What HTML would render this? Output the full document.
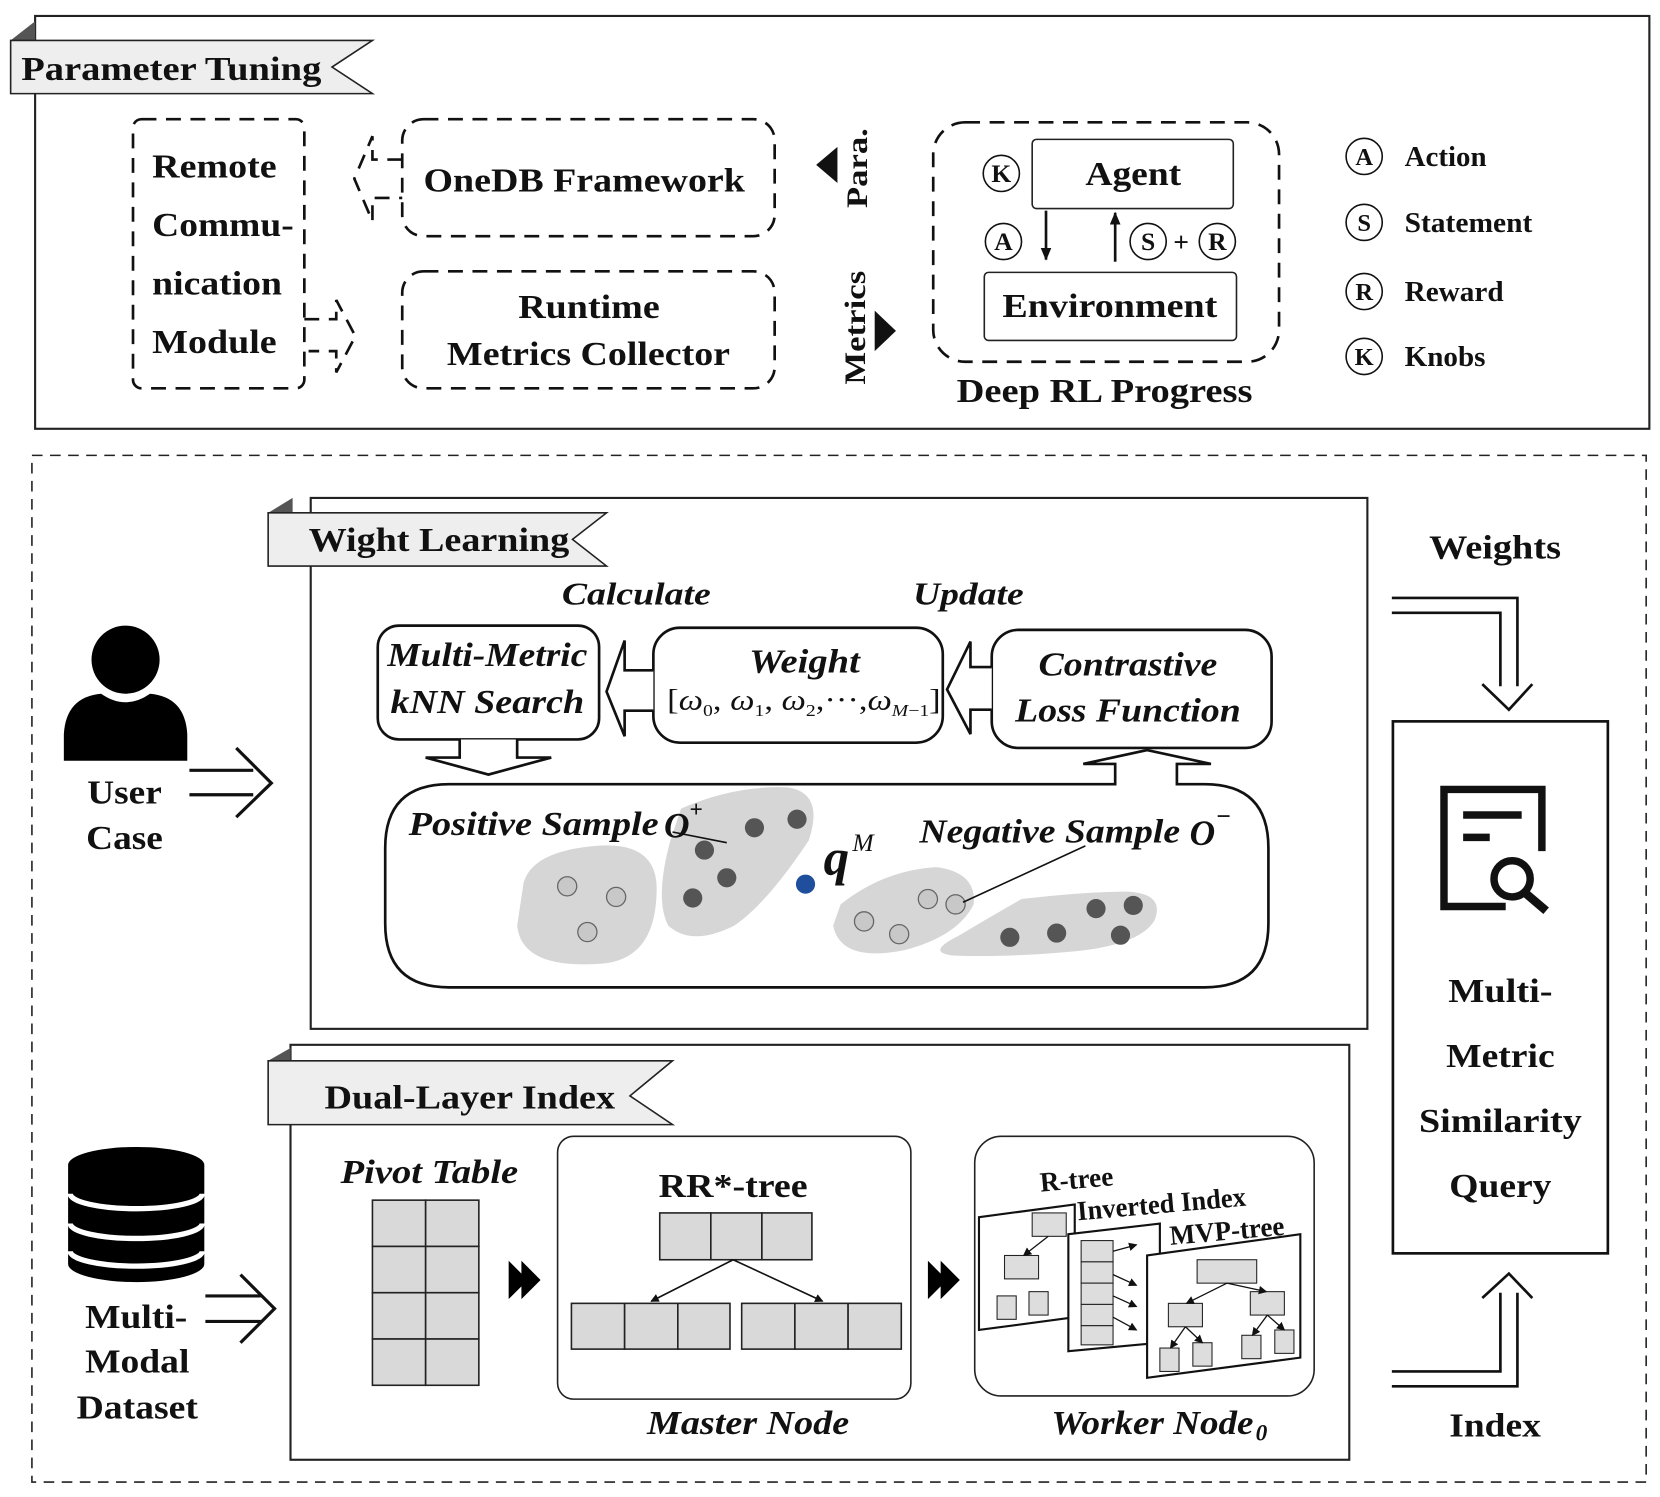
<!DOCTYPE html>
<html><head><meta charset="utf-8"><style>
html,body{margin:0;padding:0;background:#fff}
svg{display:block}
text{font-family:"Liberation Serif","Times New Roman",serif;font-weight:bold;fill:#111}
.i{font-style:italic}
</style></head><body>
<svg width="1660" height="1497" viewBox="0 0 1560 1407" preserveAspectRatio="none" xmlns="http://www.w3.org/2000/svg">
<defs>
<marker id="ah" markerWidth="8" markerHeight="8" refX="7" refY="4" orient="auto" markerUnits="userSpaceOnUse"><path d="M0,0 L8,4 L0,8 z" fill="#111"/></marker>
<marker id="ah2" markerWidth="12" markerHeight="10" refX="11" refY="5" orient="auto" markerUnits="userSpaceOnUse"><path d="M0,0 L12,5 L0,10 z" fill="#111"/></marker>
</defs>
<rect x="33" y="15" width="1517" height="388" fill="none" stroke="#222" stroke-width="2"/>
<polygon points="10,38 33,20 33,38" fill="#555"/>
<polygon points="10,38 350,38 312,63 350,88 10,88" fill="#eee" stroke="#222" stroke-width="1.5"/>
<text x="20" y="75" font-size="32" textLength="282" lengthAdjust="spacingAndGlyphs">Parameter Tuning</text>

<g fill="none" stroke="#111" stroke-width="2.5" stroke-dasharray="14,9">
<rect x="125" y="112" width="161" height="253" rx="8"/>
<rect x="378" y="112" width="350" height="110" rx="20"/>
<rect x="378" y="255" width="350" height="110" rx="20"/>
<rect x="877" y="115" width="325" height="225" rx="30"/>
<path d="M378,150 H350 V128 L333,168 L350,208 V186 H378"/>
<path d="M286,300 H316 V282 L334,316 L316,350 V330 H290"/>
</g>
<text x="143" y="167" font-size="32" textLength="117" lengthAdjust="spacingAndGlyphs">Remote</text>
<text x="143" y="222" font-size="32" textLength="133" lengthAdjust="spacingAndGlyphs">Commu-</text>
<text x="143" y="277" font-size="32" textLength="122" lengthAdjust="spacingAndGlyphs">nication</text>
<text x="143" y="332" font-size="32" textLength="117" lengthAdjust="spacingAndGlyphs">Module</text>
<text x="398" y="180" font-size="32" textLength="302" lengthAdjust="spacingAndGlyphs">OneDB Framework</text>
<text x="487" y="299" font-size="32" textLength="133" lengthAdjust="spacingAndGlyphs">Runtime</text>
<text x="420" y="343" font-size="32" textLength="266" lengthAdjust="spacingAndGlyphs">Metrics Collector</text>

<polygon points="767,155 787,138 787,172" fill="#111"/>
<text transform="translate(815,158) rotate(-90)" font-size="28" text-anchor="middle" textLength="75" lengthAdjust="spacingAndGlyphs">Para.</text>
<polygon points="842,311 822,292 822,330" fill="#111"/>
<text transform="translate(813,308) rotate(-90)" font-size="28" text-anchor="middle" textLength="107" lengthAdjust="spacingAndGlyphs">Metrics</text>

<rect x="970" y="131" width="189" height="65" rx="4" fill="none" stroke="#222" stroke-width="1.5"/>
<text x="1065" y="174" font-size="32" text-anchor="middle" textLength="90" lengthAdjust="spacingAndGlyphs">Agent</text>
<rect x="925" y="256" width="237" height="64" rx="4" fill="none" stroke="#222" stroke-width="1.5"/>
<text x="1043" y="298" font-size="32" text-anchor="middle" textLength="202" lengthAdjust="spacingAndGlyphs">Environment</text>
<g fill="#fff" stroke="#111" stroke-width="1.5">
<circle cx="941" cy="163" r="17"/><circle cx="943" cy="227" r="17"/><circle cx="1079" cy="227" r="17"/><circle cx="1144" cy="227" r="17"/>
</g>
<g font-size="24" text-anchor="middle">
<text x="941" y="171">K</text><text x="943" y="235">A</text><text x="1079" y="235">S</text><text x="1144" y="235">R</text>
</g>
<text x="1110" y="236" font-size="26" text-anchor="middle">+</text>
<line x1="983" y1="198" x2="983" y2="244" stroke="#111" stroke-width="2.5" marker-end="url(#ah2)"/>
<line x1="1048" y1="246" x2="1048" y2="200" stroke="#111" stroke-width="2.5" marker-end="url(#ah2)"/>
<text x="1038" y="378" font-size="32" text-anchor="middle" textLength="278" lengthAdjust="spacingAndGlyphs">Deep RL Progress</text>

<g fill="#fff" stroke="#111" stroke-width="1.5">
<circle cx="1282" cy="147" r="17"/><circle cx="1282" cy="209" r="17"/><circle cx="1282" cy="274" r="17"/><circle cx="1282" cy="335" r="17"/>
</g>
<g font-size="23" text-anchor="middle">
<text x="1282" y="155">A</text><text x="1282" y="217">S</text><text x="1282" y="282">R</text><text x="1282" y="343">K</text>
</g>
<g font-size="27">
<text x="1320" y="156" textLength="77" lengthAdjust="spacingAndGlyphs">Action</text>
<text x="1320" y="218" textLength="120" lengthAdjust="spacingAndGlyphs">Statement</text>
<text x="1320" y="283" textLength="93" lengthAdjust="spacingAndGlyphs">Reward</text>
<text x="1320" y="344" textLength="76" lengthAdjust="spacingAndGlyphs">Knobs</text>
</g>

<rect x="30" y="428" width="1517" height="965" fill="none" stroke="#222" stroke-width="1.5" stroke-dasharray="10,7"/>

<rect x="292" y="468" width="993" height="499" fill="none" stroke="#222" stroke-width="2"/>
<polygon points="252,482 275,468 275,482" fill="#555"/>
<polygon points="252,482 570,482 538,507 570,532 252,532" fill="#eee" stroke="#222" stroke-width="1.5"/>
<text x="290" y="518" font-size="32" textLength="245" lengthAdjust="spacingAndGlyphs">Wight Learning</text>
<text x="528" y="568" font-size="30" class="i" textLength="140" lengthAdjust="spacingAndGlyphs">Calculate</text>
<text x="858" y="568" font-size="30" class="i" textLength="104" lengthAdjust="spacingAndGlyphs">Update</text>

<g fill="#fff" stroke="#111" stroke-width="2.5">
<rect x="355" y="588" width="208" height="107" rx="20"/>
<rect x="614" y="590" width="272" height="108" rx="25"/>
<rect x="932" y="592" width="263" height="111" rx="25"/>
<path d="M614,630 H587 V602 L570,650 L587,692 V668 H614"/>
<path d="M932,627 H912 V603 L890,648 L912,690 V667 H932"/>
<path d="M432,695 V712 H400 L459,728 L518,712 H486 V695"/>
</g>
<text x="458" y="626" font-size="32" class="i" text-anchor="middle" textLength="188" lengthAdjust="spacingAndGlyphs">Multi-Metric</text>
<text x="458" y="670" font-size="32" class="i" text-anchor="middle" textLength="182" lengthAdjust="spacingAndGlyphs">kNN Search</text>
<text x="756" y="632" font-size="32" class="i" text-anchor="middle" textLength="104" lengthAdjust="spacingAndGlyphs">Weight</text>
<text x="627" y="667" font-size="28" style="font-weight:normal" textLength="257" lengthAdjust="spacingAndGlyphs">[<tspan class="i">ω</tspan><tspan font-size="16" dy="6">0</tspan><tspan dy="-6">, </tspan><tspan class="i">ω</tspan><tspan font-size="16" dy="6">1</tspan><tspan dy="-6">, </tspan><tspan class="i">ω</tspan><tspan font-size="16" dy="6">2</tspan><tspan dy="-6">,···,</tspan><tspan class="i">ω</tspan><tspan font-size="16" dy="6" class="i">M</tspan><tspan font-size="16">−1</tspan><tspan dy="-6">]</tspan></text>
<text x="1060" y="635" font-size="32" class="i" text-anchor="middle" textLength="168" lengthAdjust="spacingAndGlyphs">Contrastive</text>
<text x="1060" y="678" font-size="32" class="i" text-anchor="middle" textLength="212" lengthAdjust="spacingAndGlyphs">Loss Function</text>

<path d="M422,737 H1048 V718 H1018 L1078,705 L1138,718 H1106 V737 H1132 Q1192,737 1192,797 V868 Q1192,928 1132,928 H422 Q362,928 362,868 V797 Q362,737 422,737 Z" fill="#fff" stroke="#111" stroke-width="2.5"/>

<g fill="#d6d6d6">
<path d="M492,830 Q500,800 560,795 Q620,790 617,840 Q615,905 560,906 Q490,910 486,870 Z"/>
<path d="M640,760 Q690,738 740,740 Q775,745 760,790 Q720,850 690,870 Q650,890 628,870 Q615,845 630,790 Z"/>
<path d="M790,850 Q830,818 880,815 Q918,820 915,850 Q900,880 850,893 Q790,905 783,870 Z"/>
<path d="M960,845 Q1020,838 1060,838 Q1095,840 1085,865 Q1070,890 1000,895 Q940,900 895,898 Q870,895 900,880 Q930,862 960,845 Z"/>
</g>
<g fill="#c8c8c8" stroke="#666" stroke-width="1.2">
<circle cx="533" cy="833" r="9"/><circle cx="579" cy="843" r="9"/><circle cx="552" cy="876" r="9"/>
<circle cx="872" cy="845" r="9"/><circle cx="898" cy="850" r="9"/><circle cx="812" cy="866" r="9"/><circle cx="845" cy="878" r="9"/>
</g>
<g fill="#555">
<circle cx="662" cy="799" r="9"/><circle cx="709" cy="778" r="9"/><circle cx="749" cy="770" r="9"/><circle cx="683" cy="825" r="9"/><circle cx="651" cy="844" r="9"/>
<circle cx="949" cy="881" r="9"/><circle cx="993" cy="877" r="9"/><circle cx="1030" cy="854" r="9"/><circle cx="1065" cy="851" r="9"/><circle cx="1053" cy="879" r="9"/>
</g>
<circle cx="757" cy="831" r="9" fill="#1f4e9c"/>
<line x1="632" y1="782" x2="683" y2="792" stroke="#111" stroke-width="1.5"/>
<line x1="905" y1="848" x2="1020" y2="795" stroke="#111" stroke-width="1.5"/>
<text x="384" y="785" font-size="32" class="i" textLength="235" lengthAdjust="spacingAndGlyphs">Positive Sample</text>
<text x="624" y="787" font-size="34" class="i" textLength="24" lengthAdjust="spacingAndGlyphs">O</text><text x="648" y="768" font-size="22">+</text>
<text x="864" y="792" font-size="32" class="i" textLength="245" lengthAdjust="spacingAndGlyphs">Negative Sample</text>
<text x="1118" y="794" font-size="34" class="i" textLength="24" lengthAdjust="spacingAndGlyphs">O</text><text x="1143" y="775" font-size="24">−</text>
<text x="774" y="822" font-size="48" class="i">q</text><text x="801" y="800" font-size="24" class="i" style="font-weight:normal">M</text>

<text x="1405" y="525" font-size="32" text-anchor="middle" textLength="124" lengthAdjust="spacingAndGlyphs">Weights</text>
<g fill="none" stroke="#111" stroke-width="2.5">
<path d="M1308,562 H1426 V645"/>
<path d="M1308,576 H1410 V645"/>
<path d="M1393,643 L1418,667 L1440,643"/>
<path d="M1308,1303 H1426 V1215"/>
<path d="M1308,1289 H1410 V1215"/>
<path d="M1393,1220 L1418,1197 L1440,1220"/>
</g>
<rect x="1309" y="678" width="202" height="500" fill="#fff" stroke="#111" stroke-width="2.5"/>
<path d="M1415,852 H1357 V742 H1449 V800" fill="none" stroke="#111" stroke-width="7"/>
<line x1="1375" y1="766" x2="1430" y2="766" stroke="#111" stroke-width="7"/>
<line x1="1375" y1="787" x2="1400" y2="787" stroke="#111" stroke-width="7"/>
<circle cx="1421" cy="826" r="17" fill="none" stroke="#111" stroke-width="7"/>
<line x1="1433" y1="839" x2="1453" y2="856" stroke="#111" stroke-width="8"/>
<g font-size="32" text-anchor="middle">
<text x="1410" y="942" textLength="98" lengthAdjust="spacingAndGlyphs">Multi-</text>
<text x="1410" y="1003" textLength="102" lengthAdjust="spacingAndGlyphs">Metric</text>
<text x="1410" y="1064" textLength="153" lengthAdjust="spacingAndGlyphs">Similarity</text>
<text x="1410" y="1125" textLength="96" lengthAdjust="spacingAndGlyphs">Query</text>
</g>
<text x="1405" y="1350" font-size="32" text-anchor="middle" textLength="86" lengthAdjust="spacingAndGlyphs">Index</text>

<circle cx="118" cy="620" r="32" fill="#000"/>
<path d="M60,715 V690 Q62,655 95,652 Q118,668 141,652 Q174,655 176,690 V715 Z" fill="#000"/>
<text x="117" y="755" font-size="32" text-anchor="middle" textLength="70" lengthAdjust="spacingAndGlyphs">User</text>
<text x="117" y="798" font-size="32" text-anchor="middle" textLength="72" lengthAdjust="spacingAndGlyphs">Case</text>
<g fill="none" stroke="#111" stroke-width="3">
<path d="M178,724 H238 M178,747 H238 M222,703 L255,736 L222,768"/>
<path d="M193,1218 H245 M193,1242 H245 M226,1198 L258,1230 L226,1262"/>
</g>

<path d="M64,1095 A64,17 0 0 1 192,1095 V1188 A64,17 0 0 1 64,1188 Z" fill="#000"/>
<path d="M66,1122 A62,14 0 0 0 190,1122" fill="none" stroke="#fff" stroke-width="5"/>
<path d="M66,1150 A62,14 0 0 0 190,1150" fill="none" stroke="#fff" stroke-width="5"/>
<path d="M66,1176 A62,14 0 0 0 190,1176" fill="none" stroke="#fff" stroke-width="5"/>
<g font-size="32" text-anchor="middle">
<text x="128" y="1248" textLength="96" lengthAdjust="spacingAndGlyphs">Multi-</text>
<text x="129" y="1290" textLength="98" lengthAdjust="spacingAndGlyphs">Modal</text>
<text x="129" y="1333" textLength="114" lengthAdjust="spacingAndGlyphs">Dataset</text>
</g>

<rect x="273" y="982" width="995" height="390" fill="none" stroke="#222" stroke-width="2"/>
<polygon points="252,997 273,985 273,997" fill="#555"/>
<polygon points="252,997 632,997 592,1030 632,1057 252,1057" fill="#eee" stroke="#222" stroke-width="1.5"/>
<text x="305" y="1042" font-size="32" textLength="273" lengthAdjust="spacingAndGlyphs">Dual-Layer Index</text>
<text x="320" y="1112" font-size="32" class="i" textLength="167" lengthAdjust="spacingAndGlyphs">Pivot Table</text>
<g fill="#d9d9d9" stroke="#222" stroke-width="1.5">
<rect x="350" y="1128" width="50" height="43.5"/><rect x="400" y="1128" width="50" height="43.5"/>
<rect x="350" y="1171.5" width="50" height="43.5"/><rect x="400" y="1171.5" width="50" height="43.5"/>
<rect x="350" y="1215" width="50" height="43.5"/><rect x="400" y="1215" width="50" height="43.5"/>
<rect x="350" y="1258.5" width="50" height="43.5"/><rect x="400" y="1258.5" width="50" height="43.5"/>
</g>
<g fill="#000">
<polygon points="478,1185 496,1203 478,1221"/><polygon points="490,1185 508,1203 490,1221"/>
<polygon points="872,1185 890,1203 872,1221"/><polygon points="884,1185 902,1203 884,1221"/>
</g>
<rect x="524" y="1068" width="332" height="247" rx="15" fill="none" stroke="#222" stroke-width="1.5"/>
<text x="689" y="1125" font-size="32" text-anchor="middle" textLength="140" lengthAdjust="spacingAndGlyphs">RR*-tree</text>
<g fill="#d9d9d9" stroke="#222" stroke-width="1.5">
<rect x="620" y="1140" width="48" height="44"/><rect x="668" y="1140" width="48" height="44"/><rect x="716" y="1140" width="47" height="44"/>
<rect x="537" y="1225" width="50" height="43"/><rect x="587" y="1225" width="50" height="43"/><rect x="637" y="1225" width="49" height="43"/>
<rect x="697" y="1225" width="50" height="43"/><rect x="747" y="1225" width="50" height="43"/><rect x="797" y="1225" width="50" height="43"/>
</g>
<line x1="689" y1="1184" x2="612" y2="1223" stroke="#111" stroke-width="1.5" marker-end="url(#ah)"/>
<line x1="689" y1="1184" x2="773" y2="1223" stroke="#111" stroke-width="1.5" marker-end="url(#ah)"/>
<text x="703" y="1348" font-size="32" class="i" text-anchor="middle" textLength="190" lengthAdjust="spacingAndGlyphs">Master Node</text>

<rect x="916" y="1068" width="319" height="244" rx="25" fill="none" stroke="#222" stroke-width="1.5"/>
<polygon points="920,1144 1010,1132 1010,1238 920,1250" fill="#fff" stroke="#111" stroke-width="2"/>
<rect x="970" y="1140" width="32" height="22" fill="#ddd" stroke="#222"/>
<rect x="944" y="1180" width="32" height="22" fill="#ddd" stroke="#222"/>
<rect x="937" y="1218" width="18" height="22" fill="#ddd" stroke="#222"/>
<rect x="967" y="1214" width="18" height="22" fill="#ddd" stroke="#222"/>
<line x1="985" y1="1162" x2="962" y2="1180" stroke="#111" stroke-width="1.2" marker-end="url(#ah)"/>
<text transform="translate(978,1120) rotate(-5)" font-size="26" textLength="69" lengthAdjust="spacingAndGlyphs">R-tree</text>
<polygon points="1004,1160 1090,1150 1090,1262 1004,1270" fill="#fff" stroke="#111" stroke-width="2"/>
<g fill="#ddd" stroke="#222">
<rect x="1016" y="1166" width="30" height="20"/><rect x="1016" y="1186" width="30" height="20"/><rect x="1016" y="1206" width="30" height="20"/><rect x="1016" y="1226" width="30" height="20"/><rect x="1016" y="1246" width="30" height="18"/>
</g>
<g stroke="#111" stroke-width="1.2">
<line x1="1046" y1="1176" x2="1068" y2="1170" marker-end="url(#ah)"/>
<line x1="1046" y1="1198" x2="1068" y2="1208" marker-end="url(#ah)"/>
<line x1="1046" y1="1218" x2="1068" y2="1228" marker-end="url(#ah)"/>
<line x1="1046" y1="1238" x2="1068" y2="1250" marker-end="url(#ah)"/>
</g>
<text transform="translate(1013,1147) rotate(-5)" font-size="26" textLength="159" lengthAdjust="spacingAndGlyphs">Inverted Index</text>
<polygon points="1078,1180 1222,1160 1222,1276 1078,1295" fill="#fff" stroke="#111" stroke-width="2"/>
<g fill="#ddd" stroke="#222">
<rect x="1125" y="1184" width="56" height="22"/>
<rect x="1098" y="1225" width="32" height="22"/><rect x="1175" y="1214" width="32" height="22"/>
<rect x="1090" y="1267" width="18" height="22"/><rect x="1121" y="1262" width="18" height="22"/>
<rect x="1167" y="1255" width="18" height="22"/><rect x="1198" y="1250" width="18" height="22"/>
</g>
<g stroke="#111" stroke-width="1.2">
<line x1="1153" y1="1206" x2="1115" y2="1225" marker-end="url(#ah)"/>
<line x1="1153" y1="1206" x2="1190" y2="1214" marker-end="url(#ah)"/>
<line x1="1114" y1="1247" x2="1100" y2="1267" marker-end="url(#ah)"/>
<line x1="1114" y1="1247" x2="1130" y2="1262" marker-end="url(#ah)"/>
<line x1="1191" y1="1236" x2="1177" y2="1255" marker-end="url(#ah)"/>
<line x1="1191" y1="1236" x2="1207" y2="1250" marker-end="url(#ah)"/>
</g>
<text transform="translate(1100,1170) rotate(-5)" font-size="26" textLength="108" lengthAdjust="spacingAndGlyphs">MVP-tree</text>
<text x="988" y="1348" font-size="32" class="i" textLength="190" lengthAdjust="spacingAndGlyphs">Worker Node</text><text x="1180" y="1354" font-size="22" class="i">0</text>
</svg>
</body></html>
